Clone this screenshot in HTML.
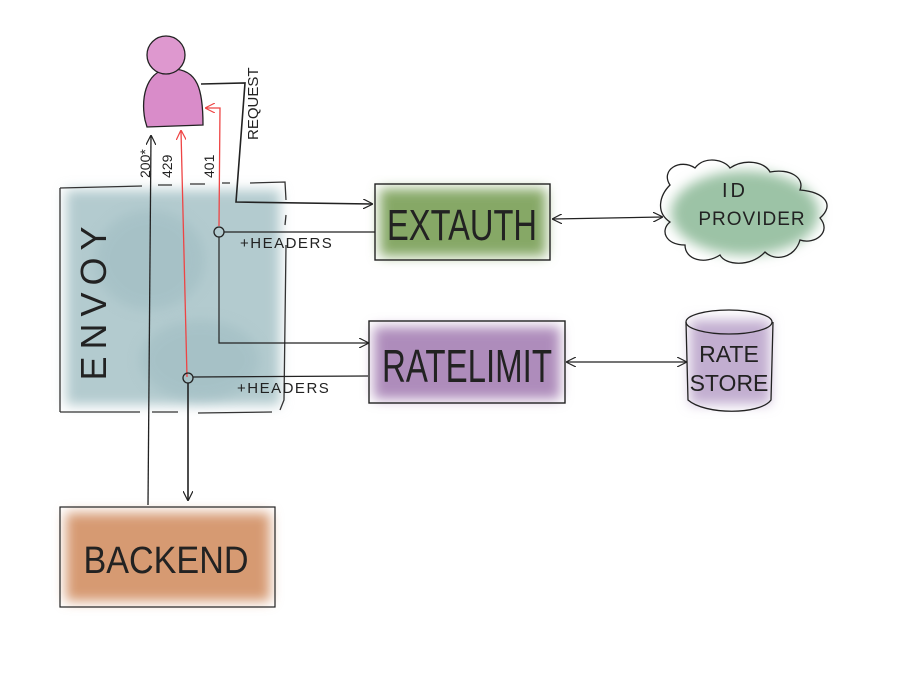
<!DOCTYPE html>
<html><head><meta charset="utf-8"><style>
html,body{margin:0;padding:0;background:#fff;}
svg{display:block;}
text{font-family:"Liberation Sans Narrow","Liberation Sans",sans-serif;fill:#222;}
</style></head><body>
<svg width="900" height="675" viewBox="0 0 900 675" xmlns="http://www.w3.org/2000/svg">
<defs>
<filter id="b" x="-20%" y="-20%" width="140%" height="140%"><feGaussianBlur stdDeviation="6"/></filter>
<marker id="a" viewBox="0 0 10 10" refX="9" refY="5" markerWidth="10" markerHeight="10" orient="auto-start-reverse" markerUnits="userSpaceOnUse"><path d="M0,0 L10,5 L0,10" fill="none" stroke="#222" stroke-width="1.2"/></marker>
<marker id="r" viewBox="0 0 10 10" refX="9" refY="5" markerWidth="10" markerHeight="10" orient="auto" markerUnits="userSpaceOnUse"><path d="M0,0 L10,5 L0,10" fill="none" stroke="#e44" stroke-width="1.2"/></marker>
</defs>
<!-- fills -->
<rect x="66" y="190" width="214" height="215" fill="#b3cbcf" filter="url(#b)"/>
<ellipse cx="150" cy="260" rx="55" ry="50" fill="#9bb9bf" opacity="0.5" filter="url(#b)"/>
<ellipse cx="200" cy="360" rx="60" ry="40" fill="#9bb9bf" opacity="0.5" filter="url(#b)"/>
<rect x="380" y="189" width="166" height="67" fill="#86a866" filter="url(#b)"/>
<rect x="374" y="327" width="186" height="72" fill="#ae8cbb" filter="url(#b)"/>
<rect x="66" y="513" width="204" height="88" fill="#d69a72" filter="url(#b)"/>
<ellipse cx="745" cy="213" rx="74" ry="42" fill="#9cc3a6" filter="url(#b)"/>
<rect x="690" y="320" width="80" height="84" fill="#c2aed0" filter="url(#b)"/>
<!-- envoy border -->
<path d="M60,188 L142,186 M158,185 L172,185 M190,184 L205,184 M222,183 L230,183 M250,183 L285,182 L286,200 M286,215 L285,225 M286,245 L284,400 L280,410 M272,412 L198,413 M178,412 L152,412 M140,412 L60,412" fill="none" stroke="#333" stroke-width="1.3"/>
<line x1="60" y1="188" x2="60" y2="412" stroke="#333" stroke-width="1.3"/>
<text transform="translate(106,300) rotate(-90)" font-size="36" text-anchor="middle" letter-spacing="7" fill="#444">ENVOY</text>
<!-- person -->
<path d="M145,120 C140,95 148,68 172,69 C198,69 203,90 203,125 L147,127 Z" fill="#d98cc9" stroke="#222" stroke-width="1.3"/>
<circle cx="166" cy="55" r="19" fill="#de98cf" stroke="#222" stroke-width="1.3"/>
<!-- request -->
<path d="M201,84 L245,83 L236,202 L372,204" fill="none" stroke="#222" stroke-width="1.6" marker-end="url(#a)"/>
<text transform="translate(258,140) rotate(-90)" font-size="15" fill="#222">REQUEST</text>
<!-- 200 -->
<line x1="148" y1="505" x2="151" y2="136" stroke="#222" stroke-width="1.3" marker-end="url(#a)"/>
<text transform="translate(150,178) rotate(-90)" font-size="14">200*</text>
<!-- 429 -->
<line x1="187" y1="377" x2="181" y2="131" stroke="#e44" stroke-width="1.3" marker-end="url(#r)"/>
<text transform="translate(172,178) rotate(-90)" font-size="14">429</text>
<!-- 401 -->
<path d="M219,226 L220,108 L206,108" fill="none" stroke="#e44" stroke-width="1.3" marker-end="url(#r)"/>
<text transform="translate(214,178) rotate(-90)" font-size="14">401</text>
<!-- headers 1 -->
<circle cx="219" cy="232" r="5" fill="none" stroke="#222" stroke-width="1.3"/>
<line x1="224" y1="232" x2="375" y2="232" stroke="#222" stroke-width="1.2"/>
<text x="240" y="248" font-size="15" letter-spacing="1.5" fill="#333">+HEADERS</text>
<path d="M219,237 L219,343 L368,343" fill="none" stroke="#222" stroke-width="1.2" marker-end="url(#a)"/>
<!-- headers 2 -->
<circle cx="188" cy="378" r="5" fill="none" stroke="#222" stroke-width="1.3"/>
<line x1="193" y1="377" x2="368" y2="376" stroke="#222" stroke-width="1.2"/>
<text x="237" y="393" font-size="15" letter-spacing="1.5" fill="#333">+HEADERS</text>
<line x1="188" y1="383" x2="188" y2="500" stroke="#222" stroke-width="1.6" marker-end="url(#a)"/>
<!-- extauth -->
<rect x="375" y="184" width="175" height="76" fill="none" stroke="#222" stroke-width="1.4"/>
<text x="462" y="240" font-size="44" text-anchor="middle" textLength="150" lengthAdjust="spacingAndGlyphs" fill="#1a1a1a">EXTAUTH</text>
<!-- ratelimit -->
<rect x="369" y="321" width="196" height="82" fill="none" stroke="#222" stroke-width="1.4"/>
<text x="467" y="382" font-size="46" text-anchor="middle" textLength="170" lengthAdjust="spacingAndGlyphs" fill="#1a1a1a">RATELIMIT</text>
<!-- backend -->
<rect x="60" y="507" width="215" height="100" fill="none" stroke="#222" stroke-width="1.2"/>
<text x="166" y="573" font-size="38" text-anchor="middle" textLength="165" lengthAdjust="spacingAndGlyphs" fill="#1a1a1a">BACKEND</text>
<!-- cloud -->
<path d="M670,185 C660,170 680,158 695,168 C705,155 725,160 730,168 C745,158 765,162 770,172 C790,168 805,178 800,190 C825,192 835,205 820,218 C832,232 815,245 800,240 C795,258 775,262 765,252 C750,268 725,265 720,255 C705,265 685,260 685,245 C665,245 660,230 670,222 C655,212 660,195 670,185 Z" fill="none" stroke="#222" stroke-width="1.3"/>
<text x="735" y="197" font-size="20" text-anchor="middle" letter-spacing="3" fill="#333">ID</text>
<text x="752" y="225" font-size="19" text-anchor="middle" letter-spacing="1" fill="#333">PROVIDER</text>
<!-- cylinder -->
<path d="M686,322 L688,400 C705,415 760,415 771,400 L773,322" fill="none" stroke="#222" stroke-width="1.3"/>
<ellipse cx="729" cy="322" rx="43" ry="12" fill="none" stroke="#222" stroke-width="1.3"/>
<text x="729" y="362" font-size="23" text-anchor="middle">RATE</text>
<text x="729" y="391" font-size="23" text-anchor="middle">STORE</text>
<!-- double arrows -->
<line x1="553" y1="219" x2="662" y2="217" stroke="#222" stroke-width="1.2" marker-start="url(#a)" marker-end="url(#a)"/>
<line x1="567" y1="362" x2="686" y2="362" stroke="#222" stroke-width="1.2" marker-start="url(#a)" marker-end="url(#a)"/>
</svg>
</body></html>
